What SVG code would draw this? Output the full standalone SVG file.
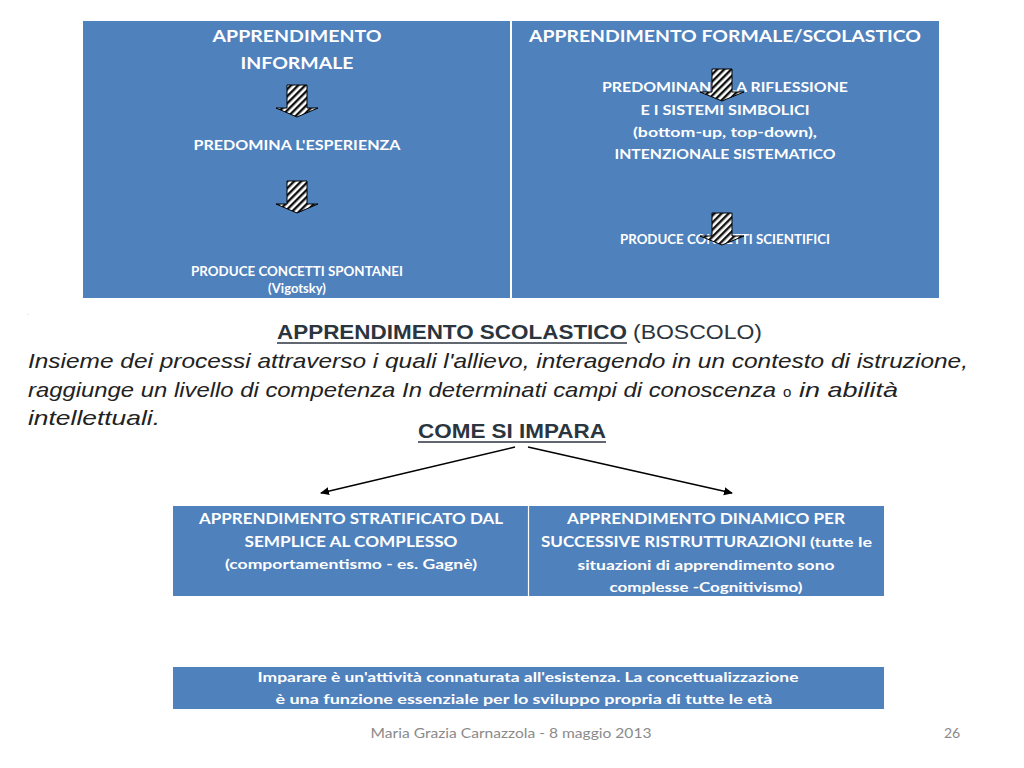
<svg xmlns="http://www.w3.org/2000/svg" width="1024" height="768" viewBox="0 0 1024 768">
<defs>
<pattern id="hatch" patternUnits="userSpaceOnUse" width="5" height="5" patternTransform="rotate(45)">
<rect width="5" height="5" fill="#ffffff"/>
<rect width="2.4" height="5" fill="#111111"/>
</pattern>
<marker id="ah" markerWidth="10" markerHeight="10" refX="8" refY="5" orient="auto" markerUnits="userSpaceOnUse">
<path d="M0,1 L9,5 L0,9 Z" fill="#000"/>
</marker>
<style>
.cell{fill:#4F81BD}
.sep{stroke:#ffffff;stroke-width:2}
.w{fill:#ffffff;font-family:Lato,"Open Sans",sans-serif;font-weight:bold;text-anchor:middle}
.wl{fill:#ffffff;font-family:Lato,"Open Sans",sans-serif;font-weight:bold}
.blk{fill:url(#hatch);stroke:#000;stroke-width:1}
.n{fill:#2b3540;font-family:"Liberation Sans",Arial,sans-serif}
.it{fill:#222;font-family:"Liberation Sans",Arial,sans-serif;font-style:italic;font-size:21px}
.conn{stroke:#000;stroke-width:1.5;fill:none;marker-end:url(#ah)}
.foot{fill:#8a8a8a;font-family:Lato,"Open Sans",sans-serif;font-size:14px}
</style>
</defs>
<rect width="1024" height="768" fill="#ffffff"/>

<g id="top-table">
<rect class="cell" x="83" y="21" width="856" height="277"/>
<line class="sep" x1="511" y1="21" x2="511" y2="298"/>
</g>

<g id="informale">
<text class="w" x="297" y="42" font-size="17" textLength="169" lengthAdjust="spacingAndGlyphs">APPRENDIMENTO</text>
<text class="w" x="297" y="69" font-size="17" textLength="113" lengthAdjust="spacingAndGlyphs">INFORMALE</text>
<polygon class="blk" points="287,85 307,85 307,108 318,108 297,117 276,108 287,108"/>
<text class="w" x="297" y="150" font-size="14" textLength="207" lengthAdjust="spacingAndGlyphs">PREDOMINA L'ESPERIENZA</text>
<polygon class="blk" points="287,181 307,181 307,204 318,204 297,213 276,204 287,204"/>
<text class="w" x="297" y="276" font-size="13" textLength="212" lengthAdjust="spacingAndGlyphs">PRODUCE CONCETTI SPONTANEI</text>
<text class="w" x="297" y="293" font-size="13">(Vigotsky)</text>
</g>

<g id="formale">
<text class="w" x="725" y="42" font-size="17" textLength="392" lengthAdjust="spacingAndGlyphs">APPRENDIMENTO FORMALE/SCOLASTICO</text>
<text class="w" x="725" y="92" font-size="14" textLength="246" lengthAdjust="spacingAndGlyphs">PREDOMINANO LA RIFLESSIONE</text>
<polygon class="blk" points="712,69 732,69 732,92 744,92 722,101 700,92 712,92"/>
<text class="w" x="725" y="115" font-size="14" textLength="169" lengthAdjust="spacingAndGlyphs">E I SISTEMI SIMBOLICI</text>
<text class="w" x="725" y="137" font-size="14" textLength="184" lengthAdjust="spacingAndGlyphs">(bottom-up, top-down),</text>
<text class="w" x="725" y="159" font-size="14" textLength="221" lengthAdjust="spacingAndGlyphs">INTENZIONALE SISTEMATICO</text>
<text class="w" x="725" y="244" font-size="13" textLength="210" lengthAdjust="spacingAndGlyphs">PRODUCE CONCETTI SCIENTIFICI</text>
<polygon class="blk" points="712,213 732,213 732,236 744,236 722,245 700,236 712,236"/>
</g>

<text x="27" y="315" font-size="6" fill="#999" font-family="Liberation Sans,sans-serif">.</text>

<g id="definizione">
<text class="n" x="277" y="339" font-size="21" font-weight="bold" textLength="350" lengthAdjust="spacingAndGlyphs">APPRENDIMENTO SCOLASTICO</text>
<line x1="277" y1="343" x2="627" y2="343" stroke="#2b3540" stroke-width="1.6"/>
<text class="n" x="633" y="339" font-size="21" textLength="129" lengthAdjust="spacingAndGlyphs">(BOSCOLO)</text>
<text class="it" x="28" y="368" textLength="940" lengthAdjust="spacingAndGlyphs">Insieme dei processi attraverso i quali l'allievo, interagendo in un contesto di istruzione,</text>
<text class="it" x="28" y="397" textLength="748" lengthAdjust="spacingAndGlyphs">raggiunge un livello di competenza In determinati campi di conoscenza</text>
<text x="783" y="397" font-size="15" fill="#222" font-family="Liberation Sans,Arial,sans-serif">o</text>
<text class="it" x="799" y="397" textLength="99" lengthAdjust="spacingAndGlyphs">in abilità</text>
<text class="it" x="28" y="425" textLength="132" lengthAdjust="spacingAndGlyphs">intellettuali.</text>
</g>

<g id="come-si-impara">
<text class="n" x="418" y="438" font-size="20" font-weight="bold" textLength="188" lengthAdjust="spacingAndGlyphs">COME SI IMPARA</text>
<line x1="418" y1="442" x2="606" y2="442" stroke="#2b3540" stroke-width="1.6"/>
</g>

<g id="connectors">
<line class="conn" x1="515" y1="447" x2="321" y2="493"/>
<line class="conn" x1="528" y1="447" x2="732" y2="493"/>
</g>

<g id="mid-table">
<rect class="cell" x="173" y="506" width="711" height="90"/>
<line x1="528.5" y1="506" x2="528.5" y2="596" stroke="#fff" stroke-width="1.2"/>
</g>

<g id="stratificato">
<text class="w" x="351" y="524" font-size="15" textLength="304" lengthAdjust="spacingAndGlyphs">APPRENDIMENTO STRATIFICATO DAL</text>
<text class="w" x="351" y="547" font-size="15" textLength="213" lengthAdjust="spacingAndGlyphs">SEMPLICE AL COMPLESSO</text>
<text class="w" x="351" y="569" font-size="14" textLength="252" lengthAdjust="spacingAndGlyphs">(comportamentismo - es. Gagnè)</text>
</g>

<g id="dinamico">
<text class="w" x="706" y="524" font-size="15" textLength="278" lengthAdjust="spacingAndGlyphs">APPRENDIMENTO DINAMICO PER</text>
<text class="wl" x="541" y="547" font-size="15" textLength="265" lengthAdjust="spacingAndGlyphs">SUCCESSIVE RISTRUTTURAZIONI</text>
<text class="wl" x="810" y="547" font-size="14" textLength="62" lengthAdjust="spacingAndGlyphs">(tutte le</text>
<text class="w" x="706" y="570" font-size="14" textLength="257" lengthAdjust="spacingAndGlyphs">situazioni di apprendimento sono</text>
<text class="w" x="706" y="592" font-size="14" textLength="193" lengthAdjust="spacingAndGlyphs">complesse -Cognitivismo)</text>
</g>

<g id="conclusione">
<rect class="cell" x="173" y="667" width="711" height="42"/>
<text class="w" x="528" y="682" font-size="14" textLength="541" lengthAdjust="spacingAndGlyphs">Imparare è un'attività connaturata all'esistenza. La concettualizzazione</text>
<text class="w" x="524" y="704" font-size="14" textLength="497" lengthAdjust="spacingAndGlyphs">è una funzione essenziale per lo sviluppo propria di tutte le età</text>
</g>

<g id="footer">
<text class="foot" x="511" y="738" text-anchor="middle" textLength="281" lengthAdjust="spacingAndGlyphs">Maria Grazia Carnazzola - 8 maggio 2013</text>
<text class="foot" x="944" y="738">26</text>
</g>
</svg>
